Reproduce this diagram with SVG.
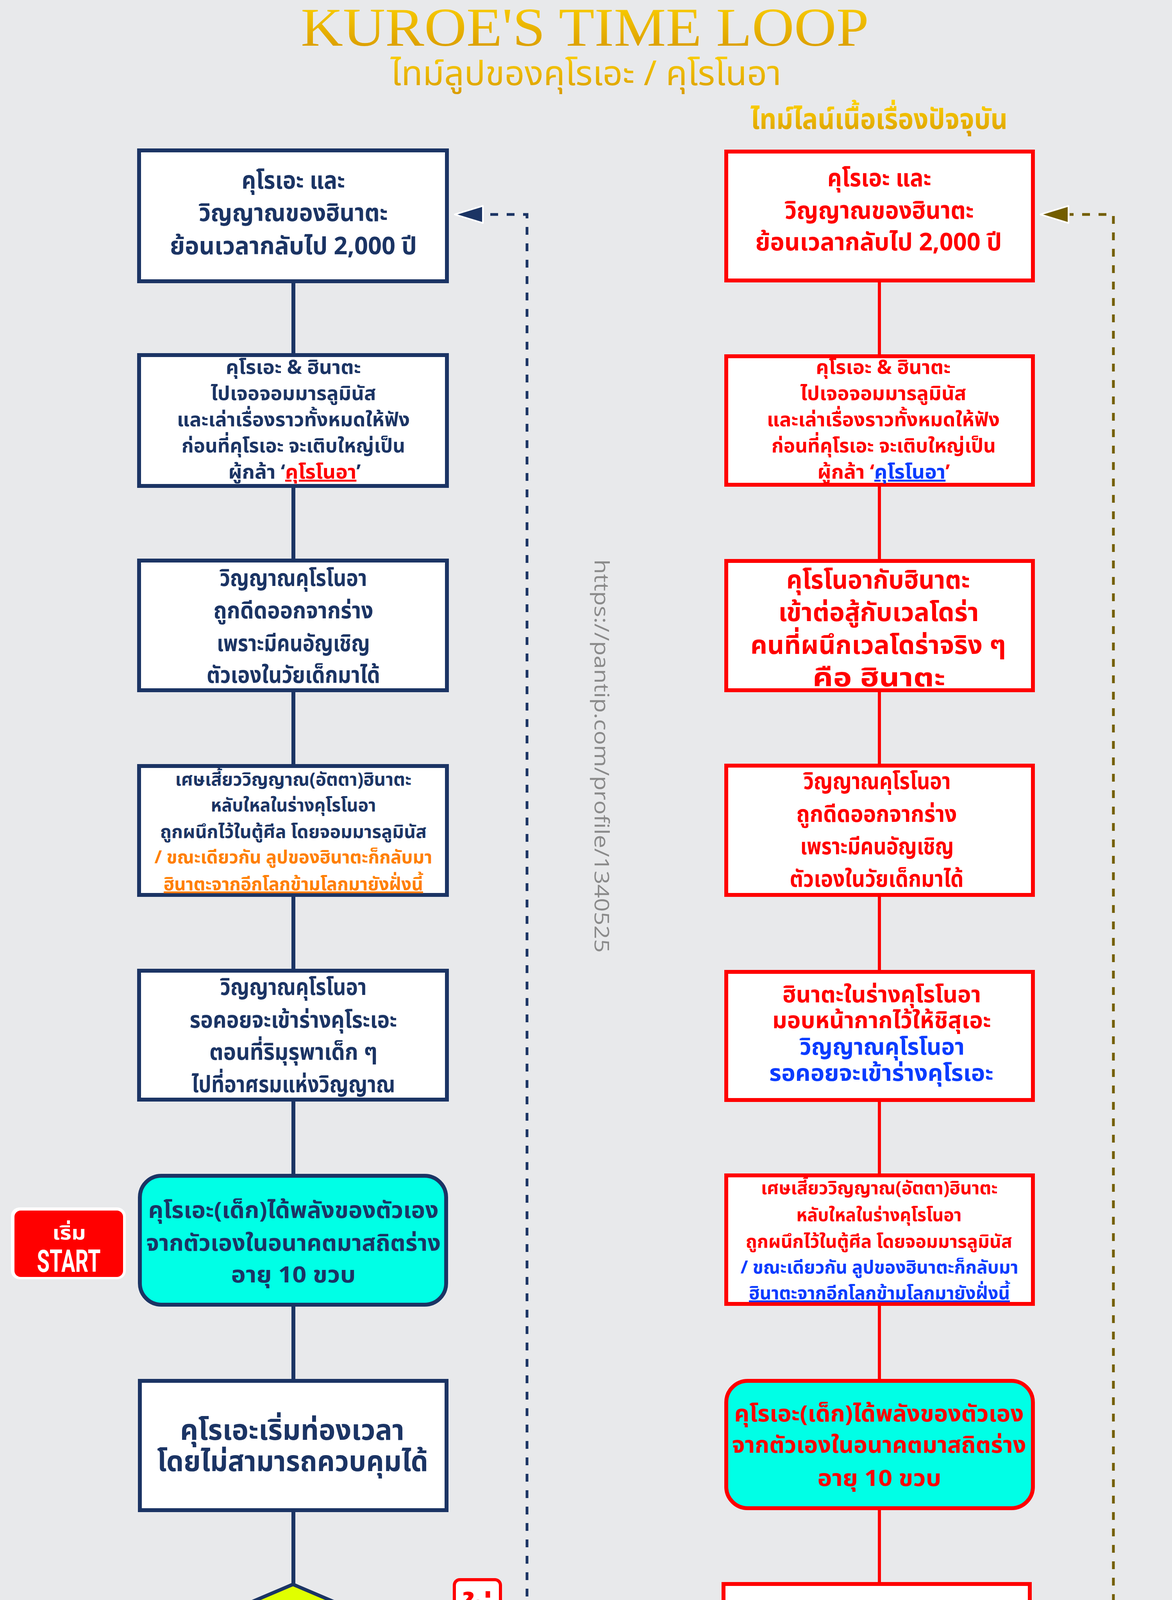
<svg xmlns="http://www.w3.org/2000/svg" width="3000" height="7710" viewBox="0 0 3000 7710">
<defs>
<linearGradient id="gold" x1="0" y1="0" x2="0" y2="1">
<stop offset="0" stop-color="#ffd500"/>
<stop offset="1" stop-color="#d49400"/>
</linearGradient>
<style>
text{font-family:'Noto Sans Thai','Noto Sans','Liberation Sans',sans-serif;font-weight:700;text-anchor:middle}
.nv{fill:#1b3464}.rd{fill:#ff0000}.bl{fill:#0a3cff}.or{fill:#ff7f00}.ol{fill:#735e00}.wh{fill:#ffffff}
.lb{fill:#ffffff;stroke:#1b3464;stroke-width:10}
.rb{fill:#ffffff;stroke:#ff0000;stroke-width:10}
.lc{fill:#00ffe6;stroke:#1b3464;stroke-width:10}
.rc{fill:#00ffe6;stroke:#ff0000;stroke-width:10}
.ln{stroke:#1b3464;stroke-width:10;fill:none}
.lr{stroke:#ff0000;stroke-width:8;fill:none}
.dn{stroke:#1b3464;stroke-width:7;fill:none;stroke-dasharray:20 22}
.do{stroke:#735e00;stroke-width:7;fill:none;stroke-dasharray:20 22}
.u{text-decoration:underline}
.wm{font-family:'Open Sans','Liberation Sans',sans-serif;font-weight:400;fill:#8a8a8a;text-anchor:start}
</style>
</defs>
<rect x="0" y="0" width="3000" height="7710" fill="#e8e9eb"/>

<g id="title">
<text x="1497" y="117" style="font-family:'Liberation Serif',serif;font-weight:400" font-size="140" fill="url(#gold)" textLength="1454" lengthAdjust="spacingAndGlyphs">KUROE'S TIME LOOP</text>
<text x="1500" y="218" style="font-weight:400" font-size="88" fill="url(#gold)" textLength="1000" lengthAdjust="spacingAndGlyphs">ไทม์ลูปของคุโรเอะ / คุโรโนอา</text>
<text x="2250" y="330" font-size="72" fill="url(#gold)" textLength="658" lengthAdjust="spacingAndGlyphs">ไทม์ไลน์เนื้อเรื่องปัจจุบัน</text>
</g>

<g id="watermarks">
<text class="wm" font-size="52" transform="translate(1522,1432) rotate(90)" textLength="1007" lengthAdjust="spacingAndGlyphs">https://pantip.com/profile/1340525</text>
<text class="wm" font-size="52" transform="translate(1532,5763) rotate(90)" textLength="1007" lengthAdjust="spacingAndGlyphs">https://pantip.com/profile/1340525</text>
</g>

<g id="connectors">
<line class="ln" x1="751" y1="725" x2="751" y2="904"/>
<line class="ln" x1="751" y1="1249" x2="751" y2="1430"/>
<line class="ln" x1="751" y1="1772" x2="751" y2="1956"/>
<line class="ln" x1="751" y1="2296" x2="751" y2="2480"/>
<line class="ln" x1="751" y1="2820" x2="751" y2="3005"/>
<line class="ln" x1="751" y1="3345" x2="751" y2="3530"/>
<line class="ln" x1="751" y1="3871" x2="751" y2="4056"/>
<line class="ln" x1="751" y1="4394" x2="751" y2="4579"/>
<polygon points="730,4497 772,4497 751,4557" fill="#e0ff00" stroke="#1b3464" stroke-width="3"/>
<line class="ln" x1="751" y1="4919" x2="751" y2="5103"/>
<line class="ln" x1="751" y1="5442" x2="751" y2="5626"/>
<line class="ln" x1="751" y1="5965" x2="751" y2="6151"/>
<line class="ln" x1="751" y1="6492" x2="751" y2="6664"/>
<line class="ln" x1="751" y1="7006" x2="751" y2="7199"/>
<line class="lr" x1="1147" y1="4222" x2="1775" y2="4222"/>
<polygon points="1770,4202 1838,4222 1770,4242" fill="#ff0000"/>
<polyline class="dn" points="1158,7382 1349,7382 1349,549 1238,549"/>
<polygon points="1236,527 1164,549 1236,571" fill="#1b3464" stroke="#ffffff" stroke-width="4" stroke-linejoin="round"/>
<line class="lr" x1="2251" y1="723" x2="2251" y2="907"/>
<line class="lr" x1="2251" y1="1246" x2="2251" y2="1431"/>
<line class="lr" x1="2251" y1="1772" x2="2251" y2="1955"/>
<line class="lr" x1="2251" y1="2296" x2="2251" y2="2483"/>
<line class="lr" x1="2251" y1="2821" x2="2251" y2="3004"/>
<line class="lr" x1="2251" y1="3343" x2="2251" y2="3530"/>
<line class="lr" x1="2251" y1="3866" x2="2251" y2="4050"/>
<line class="lr" x1="2251" y1="4388" x2="2251" y2="4568"/>
<line class="lr" x1="2251" y1="4906" x2="2251" y2="5105"/>
<line class="lr" x1="2251" y1="5441" x2="2251" y2="5628"/>
<line class="lr" x1="2251" y1="5965" x2="2251" y2="6154"/>
<polygon points="2227,6073 2275,6073 2251,6143" fill="#ff0000"/>
<line class="lr" x1="2251" y1="6491" x2="2251" y2="6680"/>
<polygon points="2227,6596 2275,6596 2251,6670" fill="#ff0000"/>
<polyline class="do" points="2655,5796 2850,5796 2850,549 2738,549"/>
<polygon points="2735,527 2663,549 2735,571" fill="#735e00" stroke="#ffffff" stroke-width="4" stroke-linejoin="round"/>
</g>

<g id="start">
<rect x="28" y="3091" width="294" height="184" rx="22" fill="#ffffff"/>
<rect x="37" y="3099" width="278" height="170" rx="16" fill="#ff0000"/>
<text class="wh" x="177" y="3173" font-size="50" textLength="86" lengthAdjust="spacingAndGlyphs">เริ่ม</text>
<text class="wh" x="176" y="3256" font-size="80" style="font-family:Roboto,'Liberation Sans',sans-serif" textLength="163" lengthAdjust="spacingAndGlyphs">START</text>
</g>

<g id="n-l1">
<rect class="lb" x="356" y="385" width="788" height="335"/>
<text class="nv" x="751" y="483" font-size="62" textLength="265" lengthAdjust="spacingAndGlyphs">คุโรเอะ และ</text>
<text class="nv" x="751" y="566" font-size="62" textLength="484" lengthAdjust="spacingAndGlyphs">วิญญาณของฮินาตะ</text>
<text class="nv" x="751" y="651" font-size="62" textLength="632" lengthAdjust="spacingAndGlyphs">ย้อนเวลากลับไป 2,000 ปี</text>
</g>
<g id="n-l2">
<rect class="lb" x="356" y="909" width="788" height="335"/>
<text class="nv" x="751" y="957" font-size="50" textLength="346" lengthAdjust="spacingAndGlyphs">คุโรเอะ &amp; ฮินาตะ</text>
<text class="nv" x="751" y="1024" font-size="50" textLength="423" lengthAdjust="spacingAndGlyphs">ไปเจอจอมมารลูมินัส</text>
<text class="nv" x="751" y="1091" font-size="50" textLength="596" lengthAdjust="spacingAndGlyphs">และเล่าเรื่องราวทั้งหมดให้ฟัง</text>
<text class="nv" x="751" y="1158" font-size="50" textLength="572" lengthAdjust="spacingAndGlyphs">ก่อนที่คุโรเอะ จะเติบใหญ่เป็น</text>
<text class="nv" x="754" y="1225" font-size="50" textLength="339" lengthAdjust="spacingAndGlyphs">ผู้กล้า ‘<tspan class="rd u">คุโรโนอา</tspan>’</text>
</g>
<g id="n-l3">
<rect class="lb" x="356" y="1435" width="788" height="332"/>
<text class="nv" x="751" y="1500" font-size="58" textLength="377" lengthAdjust="spacingAndGlyphs">วิญญาณคุโรโนอา</text>
<text class="nv" x="751" y="1583" font-size="58" textLength="409" lengthAdjust="spacingAndGlyphs">ถูกดีดออกจากร่าง</text>
<text class="nv" x="751" y="1667" font-size="58" textLength="392" lengthAdjust="spacingAndGlyphs">เพราะมีคนอัญเชิญ</text>
<text class="nv" x="751" y="1748" font-size="58" textLength="444" lengthAdjust="spacingAndGlyphs">ตัวเองในวัยเด็กมาได้</text>
</g>
<g id="n-l4">
<rect class="lb" x="356" y="1961" width="788" height="330"/>
<text class="nv" x="751" y="2011" font-size="46" textLength="605" lengthAdjust="spacingAndGlyphs">เศษเสี้ยววิญญาณ(อัตตา)ฮินาตะ</text>
<text class="nv" x="751" y="2077" font-size="46" textLength="423" lengthAdjust="spacingAndGlyphs">หลับใหลในร่างคุโรโนอา</text>
<text class="nv" x="751" y="2145" font-size="46" textLength="682" lengthAdjust="spacingAndGlyphs">ถูกผนึกไว้ในตู้ศีล โดยจอมมารลูมินัส</text>
<text class="or" x="751" y="2210" font-size="46" textLength="711" lengthAdjust="spacingAndGlyphs">/ ขณะเดียวกัน ลูปของฮินาตะก็กลับมา</text>
<text class="or u" x="751" y="2279" font-size="46" textLength="664" lengthAdjust="spacingAndGlyphs">ฮินาตะจากอีกโลกข้ามโลกมายังฝั่งนี้</text>
</g>
<g id="n-l5">
<rect class="lb" x="356" y="2485" width="788" height="330"/>
<text class="nv" x="751" y="2547" font-size="58" textLength="375" lengthAdjust="spacingAndGlyphs">วิญญาณคุโรโนอา</text>
<text class="nv" x="751" y="2631" font-size="58" textLength="531" lengthAdjust="spacingAndGlyphs">รอคอยจะเข้าร่างคุโระเอะ</text>
<text class="nv" x="751" y="2713" font-size="58" textLength="430" lengthAdjust="spacingAndGlyphs">ตอนที่ริมุรุพาเด็ก ๆ</text>
<text class="nv" x="751" y="2796" font-size="58" textLength="521" lengthAdjust="spacingAndGlyphs">ไปที่อาศรมแห่งวิญญาณ</text>
</g>
<g id="n-l6">
<rect class="lc" x="358" y="3010" width="784" height="330" rx="55"/>
<text class="nv" x="751" y="3118" font-size="58" textLength="743" lengthAdjust="spacingAndGlyphs">คุโรเอะ(เด็ก)ได้พลังของตัวเอง</text>
<text class="nv" x="751" y="3202" font-size="58" textLength="754" lengthAdjust="spacingAndGlyphs">จากตัวเองในอนาคตมาสถิตร่าง</text>
<text class="nv" x="751" y="3283" font-size="58" textLength="319" lengthAdjust="spacingAndGlyphs">อายุ 10 ขวบ</text>
</g>
<g id="n-l7">
<rect class="lb" x="358" y="3535" width="785" height="331"/>
<text class="nv" x="748" y="3686" font-size="72" textLength="574" lengthAdjust="spacingAndGlyphs">คุโรเอะเริ่มท่องเวลา</text>
<text class="nv" x="749" y="3766" font-size="72" textLength="694" lengthAdjust="spacingAndGlyphs">โดยไม่สามารถควบคุมได้</text>
</g>
<g id="n-d1">
<polygon points="750,4056 1147,4225 750,4394 352,4225" fill="#e0ff00" stroke="#1b3464" stroke-width="9" stroke-linejoin="miter"/>
<text class="nv" x="753" y="4168" font-size="66" textLength="117" lengthAdjust="spacingAndGlyphs">ริมุรุ</text>
<text class="nv" x="754" y="4251" font-size="66" textLength="562" lengthAdjust="spacingAndGlyphs">เป็นจอมมารหรือไม่ ?</text>
</g>
<g id="lbl-yes1">
<rect x="1163" y="4044" width="118" height="117" rx="14" fill="#ffffff" stroke="#ff0000" stroke-width="8"/>
<text class="rd" x="1222" y="4136" font-size="72" textLength="75" lengthAdjust="spacingAndGlyphs">ใช่</text>
</g>
<g id="lbl-no1">
<rect x="853" y="4392" width="119" height="119" rx="14" fill="#ffffff" stroke="#1b3464" stroke-width="8"/>
<text class="nv" x="916" y="4487" font-size="72" textLength="72" lengthAdjust="spacingAndGlyphs">ไม่</text>
</g>
<g id="n-l8">
<rect class="lb" x="358" y="4584" width="785" height="330"/>
<text class="nv" x="756" y="4700" font-size="72" textLength="645" lengthAdjust="spacingAndGlyphs">เวลาดำเนินผ่านไป 5 ปี</text>
<text class="nv" x="757" y="4785" font-size="72" textLength="616" lengthAdjust="spacingAndGlyphs">เทมเพสต์เกิดสงคราม</text>
<text class="nv" x="757" y="4866" font-size="72" textLength="688" lengthAdjust="spacingAndGlyphs">กับจักรวรรดิตะวันออก</text>
</g>
<g id="n-l9">
<rect class="lb" x="358" y="5108" width="785" height="329"/>
<text class="nv" x="752" y="5258" font-size="74" textLength="230" lengthAdjust="spacingAndGlyphs">ริมุรุตาย</text>
<text class="nv" x="752" y="5340" font-size="74" textLength="480" lengthAdjust="spacingAndGlyphs">เทมเพสต์ล่มสลาย</text>
</g>
<g id="n-l10">
<rect class="lb" x="358" y="5631" width="785" height="329"/>
<text class="nv" x="753" y="5767" font-size="72" textLength="598" lengthAdjust="spacingAndGlyphs">จักรวรรดิตะวันออก</text>
<text class="nv" x="752" y="5848" font-size="72" textLength="632" lengthAdjust="spacingAndGlyphs">ถูกทำลายโดยเวลโดร่า</text>
</g>
<g id="n-l11">
<rect class="lb" x="356" y="6156" width="789" height="331"/>
<text class="nv" x="750" y="6242" font-size="56" textLength="546" lengthAdjust="spacingAndGlyphs">มิลิมตั้งใจถล่มจักรวรรดิ</text>
<text class="nv" x="750" y="6316" font-size="56" textLength="271" lengthAdjust="spacingAndGlyphs">ที่เข้ามาขวาง</text>
<text class="nv" x="750" y="6390" font-size="56" textLength="550" lengthAdjust="spacingAndGlyphs">กลายเป็นสงครามระหว่าง</text>
<text class="nv" x="751" y="6464" font-size="56" textLength="247" lengthAdjust="spacingAndGlyphs">กี VS. มิลิม</text>
</g>
<g id="n-l12">
<rect class="lb" x="356" y="6669" width="789" height="332"/>
<text class="rd" x="751" y="6866" font-size="70" textLength="303" lengthAdjust="spacingAndGlyphs">ฮินาตะตาย</text>
</g>
<text class="nv" x="1050" y="7161" font-size="50" textLength="532" lengthAdjust="spacingAndGlyphs">ย้อนเวลากลับไป 2,000 ปี</text>
<g id="n-l13">
<rect class="lb" x="356" y="7204" width="789" height="336"/>
<text class="nv" x="746" y="7251" font-size="48" textLength="470" lengthAdjust="spacingAndGlyphs">ด้วยเหตุการณ์บางอย่าง</text>
<text class="nv" x="748" y="7321" font-size="48" textLength="716" lengthAdjust="spacingAndGlyphs">ถ้าฮินาตะตาย จะทำให้วิญญาณฮินาตะ</text>
<text class="nv" x="748" y="7386" font-size="48" textLength="567" lengthAdjust="spacingAndGlyphs">ถูกดูดเข้ามาในร่างของคุโรเอะ</text>
<text class="nv" x="748" y="7451" font-size="48" textLength="761" lengthAdjust="spacingAndGlyphs">ทำให้ทั้งสองคนอาศัยอยู่ในร่างเดียวกัน</text>
<text class="rd u" x="748" y="7519" font-size="48" textLength="529" lengthAdjust="spacingAndGlyphs">และจะเกิดการวนลูปทุกครั้ง</text>
</g>

<g id="n-r1">
<rect class="rb" x="1859" y="388" width="785" height="330"/>
<text class="rd" x="2251" y="477" font-size="62" textLength="266" lengthAdjust="spacingAndGlyphs">คุโรเอะ และ</text>
<text class="rd" x="2251" y="560" font-size="62" textLength="484" lengthAdjust="spacingAndGlyphs">วิญญาณของฮินาตะ</text>
<text class="rd" x="2249" y="641" font-size="62" textLength="631" lengthAdjust="spacingAndGlyphs">ย้อนเวลากลับไป 2,000 ปี</text>
</g>
<g id="n-r2">
<rect class="rb" x="1859" y="912" width="785" height="329"/>
<text class="rd" x="2261" y="957" font-size="50" textLength="345" lengthAdjust="spacingAndGlyphs">คุโรเอะ &amp; ฮินาตะ</text>
<text class="rd" x="2261" y="1024" font-size="50" textLength="425" lengthAdjust="spacingAndGlyphs">ไปเจอจอมมารลูมินัส</text>
<text class="rd" x="2261" y="1091" font-size="50" textLength="596" lengthAdjust="spacingAndGlyphs">และเล่าเรื่องราวทั้งหมดให้ฟัง</text>
<text class="rd" x="2262" y="1158" font-size="50" textLength="574" lengthAdjust="spacingAndGlyphs">ก่อนที่คุโรเอะ จะเติบใหญ่เป็น</text>
<text class="rd" x="2262" y="1225" font-size="50" textLength="339" lengthAdjust="spacingAndGlyphs">ผู้กล้า ‘<tspan class="bl u">คุโรโนอา</tspan>’</text>
</g>
<g id="n-r3">
<rect class="rb" x="1859" y="1436" width="785" height="331"/>
<text class="rd" x="2248" y="1507" font-size="66" textLength="470" lengthAdjust="spacingAndGlyphs">คุโรโนอากับฮินาตะ</text>
<text class="rd" x="2249" y="1590" font-size="66" textLength="513" lengthAdjust="spacingAndGlyphs">เข้าต่อสู้กับเวลโดร่า</text>
<text class="rd" x="2248" y="1674" font-size="66" textLength="654" lengthAdjust="spacingAndGlyphs">คนที่ผนึกเวลโดร่าจริง ๆ</text>
<text class="rd" x="2250" y="1757" font-size="66" textLength="340" lengthAdjust="spacingAndGlyphs">คือ ฮินาตะ</text>
</g>
<g id="n-r4">
<rect class="rb" x="1859" y="1960" width="785" height="331"/>
<text class="rd" x="2245" y="2020" font-size="58" textLength="377" lengthAdjust="spacingAndGlyphs">วิญญาณคุโรโนอา</text>
<text class="rd" x="2244" y="2104" font-size="58" textLength="411" lengthAdjust="spacingAndGlyphs">ถูกดีดออกจากร่าง</text>
<text class="rd" x="2245" y="2187" font-size="58" textLength="393" lengthAdjust="spacingAndGlyphs">เพราะมีคนอัญเชิญ</text>
<text class="rd" x="2244" y="2270" font-size="58" textLength="445" lengthAdjust="spacingAndGlyphs">ตัวเองในวัยเด็กมาได้</text>
</g>
<g id="n-r5">
<rect class="rb" x="1859" y="2488" width="785" height="328"/>
<text class="rd" x="2257" y="2566" font-size="58" textLength="508" lengthAdjust="spacingAndGlyphs">ฮินาตะในร่างคุโรโนอา</text>
<text class="rd" x="2257" y="2632" font-size="58" textLength="560" lengthAdjust="spacingAndGlyphs">มอบหน้ากากไว้ให้ชิสุเอะ</text>
<text class="bl" x="2258" y="2700" font-size="58" textLength="422" lengthAdjust="spacingAndGlyphs">วิญญาณคุโรโนอา</text>
<text class="bl" x="2256" y="2767" font-size="58" textLength="574" lengthAdjust="spacingAndGlyphs">รอคอยจะเข้าร่างคุโรเอะ</text>
</g>
<g id="n-r6">
<rect class="rb" x="1859" y="3009" width="785" height="329"/>
<text class="rd" x="2251" y="3057" font-size="46" textLength="606" lengthAdjust="spacingAndGlyphs">เศษเสี้ยววิญญาณ(อัตตา)ฮินาตะ</text>
<text class="rd" x="2250" y="3126" font-size="46" textLength="423" lengthAdjust="spacingAndGlyphs">หลับใหลในร่างคุโรโนอา</text>
<text class="rd" x="2250" y="3194" font-size="46" textLength="682" lengthAdjust="spacingAndGlyphs">ถูกผนึกไว้ในตู้ศีล โดยจอมมารลูมินัส</text>
<text class="bl" x="2251" y="3260" font-size="46" textLength="711" lengthAdjust="spacingAndGlyphs">/ ขณะเดียวกัน ลูปของฮินาตะก็กลับมา</text>
<text class="bl u" x="2251" y="3326" font-size="46" textLength="668" lengthAdjust="spacingAndGlyphs">ฮินาตะจากอีกโลกข้ามโลกมายังฝั่งนี้</text>
</g>
<g id="n-r7">
<rect class="rc" x="1859" y="3535" width="785" height="326" rx="55"/>
<text class="rd" x="2250" y="3639" font-size="58" textLength="741" lengthAdjust="spacingAndGlyphs">คุโรเอะ(เด็ก)ได้พลังของตัวเอง</text>
<text class="rd" x="2250" y="3719" font-size="58" textLength="753" lengthAdjust="spacingAndGlyphs">จากตัวเองในอนาคตมาสถิตร่าง</text>
<text class="rd" x="2251" y="3804" font-size="58" textLength="317" lengthAdjust="spacingAndGlyphs">อายุ 10 ขวบ</text>
</g>
<g id="n-r8">
<rect class="rb" x="1852" y="4055" width="784" height="328"/>
<text class="bl" x="2250" y="4240" font-size="72" textLength="455" lengthAdjust="spacingAndGlyphs">ริมุรุเป็นจอมมาร</text>
</g>
<g id="n-r9">
<rect class="rb" x="1859" y="4573" width="785" height="328"/>
<text class="rd" x="2252" y="4687" font-size="66" textLength="619" lengthAdjust="spacingAndGlyphs">ริมุรุพาเด็ก ๆ ไปลูเบเรียส</text>
<text class="rd" x="2251" y="4771" font-size="66" textLength="744" lengthAdjust="spacingAndGlyphs">เพื่อแลกเปลี่ยนวัฒนธรรมดนตรี</text>
<text class="rd" x="2251" y="4854" font-size="66" textLength="222" lengthAdjust="spacingAndGlyphs">กับลูมินัส</text>
</g>
<g id="n-r10">
<rect class="rb" x="1859" y="5110" width="785" height="326"/>
<text class="rd" x="2249" y="5202" font-size="66" textLength="392" lengthAdjust="spacingAndGlyphs">ยูคิ คางุระซากะ</text>
<text class="rd" x="2250" y="5287" font-size="66" textLength="745" lengthAdjust="spacingAndGlyphs">ร่วมมือกับ แกรนเบล รอสโซ</text>
<text class="rd" x="2250" y="5371" font-size="66" textLength="698" lengthAdjust="spacingAndGlyphs">ก่อความวุ่นวายที่ลูเบเรียส</text>
</g>
<text class="ol" x="2538" y="5582" font-size="50" textLength="532" lengthAdjust="spacingAndGlyphs">ย้อนเวลากลับไป 2,000 ปี</text>
<g id="n-d2">
<polygon points="2251,5628 2655,5796 2251,5965 1847,5796" fill="#735e00" stroke="#ff0000" stroke-width="9"/>
<text class="wh" x="2253" y="5768" font-size="68" textLength="181" lengthAdjust="spacingAndGlyphs">ฮินาตะ</text>
<text class="wh" x="2253" y="5852" font-size="68" textLength="357" lengthAdjust="spacingAndGlyphs">ตายหรือไม่ ?</text>
</g>
<g id="lbl-yes2">
<rect x="2677" y="5622" width="118" height="111" rx="14" fill="#ffffff" stroke="#735e00" stroke-width="8"/>
<text class="ol" x="2736" y="5716" font-size="72" textLength="74" lengthAdjust="spacingAndGlyphs">ใช่</text>
</g>
<g id="lbl-no2">
<rect x="2328" y="5994" width="118" height="111" rx="14" fill="#ffffff" stroke="#ff0000" stroke-width="8"/>
<text class="rd" x="2389" y="6087" font-size="72" textLength="74" lengthAdjust="spacingAndGlyphs">ไม่</text>
</g>
<g id="n-r11">
<rect class="rb" x="1859" y="6159" width="785" height="327"/>
<text class="rd" x="2250" y="6266" font-size="66" textLength="741" lengthAdjust="spacingAndGlyphs">ริมุรุช่วยคุโรโนอา / คุโรเอะ</text>
<text class="rd" x="2249" y="6351" font-size="66" textLength="524" lengthAdjust="spacingAndGlyphs">กับ ฮินาตะ เอาไว้ได้</text>
<text class="rd" x="2250" y="6435" font-size="66" textLength="347" lengthAdjust="spacingAndGlyphs">ฮินาตะไม่ตาย</text>
</g>
<g id="n-r12">
<rect class="rc" x="1859" y="6685" width="785" height="327" rx="55"/>
<text class="rd" x="2251" y="6795" font-size="66" textLength="541" lengthAdjust="spacingAndGlyphs">หลุดจากลูปในที่สุด</text>
<text class="rd" x="2251" y="6880" font-size="66" textLength="668" lengthAdjust="spacingAndGlyphs">คุโรเอะ สามารถควบคุม</text>
<text class="rd" x="2251" y="6961" font-size="66" textLength="512" lengthAdjust="spacingAndGlyphs">กระแสเวลาได้แล้ว</text>
</g>
<g id="stop">
<rect x="2089" y="7049" width="300" height="183" rx="22" fill="#ffffff"/>
<rect x="2098" y="7058" width="282" height="165" rx="16" fill="#ff0000"/>
<text class="wh" x="2250" y="7115" font-size="50" textLength="64" lengthAdjust="spacingAndGlyphs">จบ</text>
<text class="wh" x="2249" y="7199" font-size="76" style="font-family:Roboto,'Liberation Sans',sans-serif" textLength="130" lengthAdjust="spacingAndGlyphs">STOP</text>
</g>
</svg>
